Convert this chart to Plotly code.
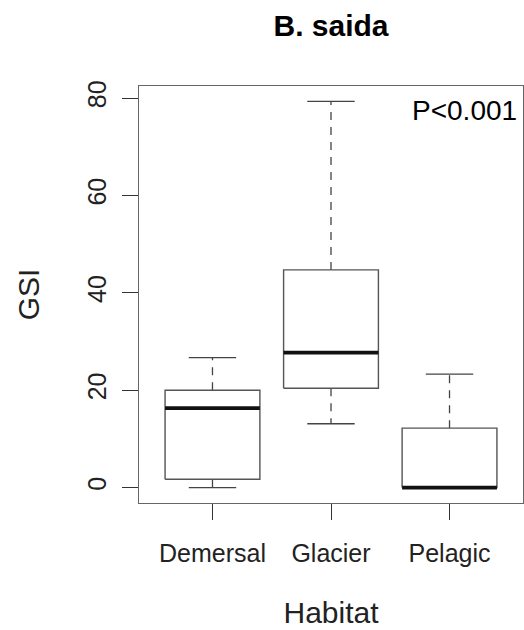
import plotly.graph_objects as go

habitats = ["Demersal", "Glacier", "Pelagic"]
lower_whisker = [0.0, 13.1, 0.0]
q1 = [1.7, 20.4, 0.0]
median = [16.3, 27.7, 0.0]
q3 = [20.0, 44.7, 12.2]
upper_whisker = [26.7, 79.3, 23.3]
y_ticks = [0, 20, 40, 60, 80]

title = "B. saida"
x_title = "Habitat"
y_title = "GSI"
p_label = "P<0.001"

BOX_HALF = 0.4
CAP_HALF = 0.2
FONT = "Liberation Sans, Arial, sans-serif"

pos = list(range(1, len(habitats) + 1))

bx, by = [], []
mx, my = [], []
wx, wy = [], []
cx, cy = [], []
for i, p in enumerate(pos):
    l, r = p - BOX_HALF, p + BOX_HALF
    bx += [l, r, r, l, l, None]
    by += [q1[i], q1[i], q3[i], q3[i], q1[i], None]
    mx += [l, r, None]
    my += [median[i], median[i], None]
    wx += [p, p, None, p, p, None]
    wy += [q3[i], upper_whisker[i], None, q1[i], lower_whisker[i], None]
    cx += [p - CAP_HALF, p + CAP_HALF, None, p - CAP_HALF, p + CAP_HALF, None]
    cy += [upper_whisker[i], upper_whisker[i], None, lower_whisker[i], lower_whisker[i], None]

fig = go.Figure()
fig.add_trace(go.Scatter(x=wx, y=wy, mode="lines", line=dict(color="#444", width=1.3, dash="8px,7px"),
                         hoverinfo="skip", showlegend=False))
fig.add_trace(go.Scatter(x=cx, y=cy, mode="lines", line=dict(color="#444", width=1.3),
                         hoverinfo="skip", showlegend=False))
fig.add_trace(go.Scatter(x=bx, y=by, mode="lines", line=dict(color="#555", width=1.4),
                         fill="toself", fillcolor="white", hoverinfo="skip", showlegend=False))
fig.add_trace(go.Scatter(x=mx, y=my, mode="lines", line=dict(color="#111", width=3.8),
                         hoverinfo="skip", showlegend=False))

data_min = min(lower_whisker)
data_max = max(upper_whisker)
ext = 0.04 * (data_max - data_min)

fig.update_layout(
    width=524, height=630,
    margin=dict(l=139, r=1, t=86, b=127),
    paper_bgcolor="white", plot_bgcolor="white",
    font=dict(family=FONT, color="black"),
    title=dict(text="<b>" + title + "</b>", x=0.5, xref="paper", xanchor="center",
               y=1 - 25 / 630, yanchor="middle", yref="container",
               font=dict(size=30, family=FONT, color="black")),
    xaxis=dict(range=[0.5 - 0.04 * len(habitats), len(habitats) + 0.5 + 0.04 * len(habitats)],
               tickvals=pos, ticktext=habitats, ticks="outside", ticklen=16,
               tickcolor="#333", tickwidth=1.2, ticklabelstandoff=12,
               showline=True, linecolor="#666", linewidth=1.3, mirror=True,
               showgrid=False, zeroline=False,
               tickfont=dict(size=25, color="#222"),
               title=dict(text=x_title, font=dict(size=30, color="#222"), standoff=35),
               fixedrange=True),
    yaxis=dict(range=[data_min - ext, data_max + ext],
               tickvals=y_ticks, ticks="outside", ticklen=16, tickangle=-90,
               tickcolor="#333", tickwidth=1.2, ticklabelstandoff=6,
               showline=True, linecolor="#666", linewidth=1.3, mirror=True,
               showgrid=False, zeroline=False,
               tickfont=dict(size=25, color="#222"),
               title=dict(text=y_title, font=dict(size=30, color="#222"), standoff=34),
               fixedrange=True),
    annotations=[dict(text=p_label, xref="paper", yref="paper", x=0.99, y=0.942,
                      xanchor="right", yanchor="middle", showarrow=False,
                      font=dict(size=28, color="black"))],
)

fig.write_html("out.html")
